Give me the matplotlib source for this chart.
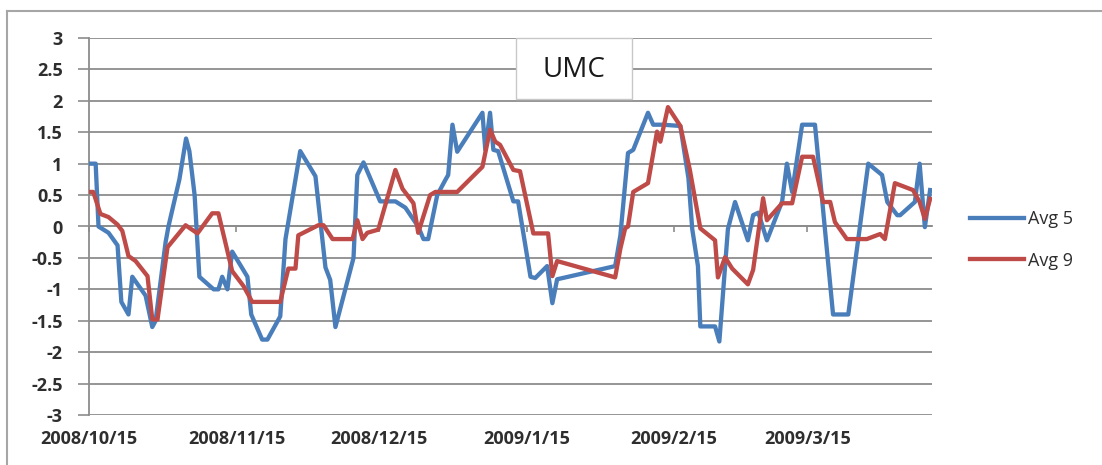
import numpy as np
import matplotlib
matplotlib.use("Agg")
import matplotlib.pyplot as plt
from matplotlib.patches import Rectangle
from matplotlib.lines import Line2D
from datetime import date

plt.rcParams['font.family'] = ['Open Sans', 'DejaVu Sans']

# days since 2008/10/15 and values
avg5_days = [0.3, 1.4, 2.0, 4.1, 6.0, 6.8, 8.3, 9.1, 11.9, 13.3, 14.0, 16.1, 16.7,
             19.0, 20.4, 21.1, 22.2, 23.2, 26.2, 27.2, 28.0, 29.1, 30.1, 33.3, 34.1,
             36.4, 37.5, 40.2, 41.3, 44.4, 47.6, 49.7, 50.7, 51.8, 55.6, 56.4, 57.7,
             61.2, 64.4, 66.5, 69.2, 70.3, 71.3, 73.2, 74.9, 75.5, 76.4, 77.4, 82.7,
             83.3, 84.3, 85.0, 86.0, 89.2, 90.2, 92.8, 93.8, 96.3, 97.4, 98.4, 110.6,
             111.7, 113.3, 114.4, 117.5, 118.6, 120.7, 124.3, 126.0, 126.8, 128.0,
             128.5, 131.6, 132.5, 134.3, 135.8, 138.5, 139.6, 140.7, 142.5, 145.7,
             146.7, 147.8, 149.9, 152.6, 156.4, 159.6, 163.8, 166.7, 167.8, 169.9,
             170.5, 173.6, 174.6, 175.7, 176.8]
avg5_vals = [1.0, 1.0, 0.0, -0.1, -0.3, -1.2, -1.4, -0.8, -1.1, -1.6, -1.5, -0.25, 0.0,
             0.75, 1.4, 1.2, 0.5, -0.8, -1.0, -1.0, -0.8, -1.0, -0.4, -0.8, -1.4,
             -1.8, -1.8, -1.43, -0.2, 1.2, 0.8, -0.65, -0.85, -1.6, -0.5, 0.82, 1.02,
             0.4, 0.4, 0.3, 0.0, -0.2, -0.2, 0.5, 0.74, 0.82, 1.62, 1.19, 1.81,
             1.22, 1.81, 1.22, 1.2, 0.4, 0.4, -0.8, -0.82, -0.63, -1.22, -0.84, -0.63,
             -0.14, 1.17, 1.22, 1.81, 1.62, 1.62, 1.6, 0.77, -0.04, -0.63,
             -1.59, -1.59, -1.83, -0.04, 0.39, -0.22, 0.18, 0.22, -0.22, 0.4,
             1.0, 0.55, 1.62, 1.62, -1.4, -1.4, 1.0, 0.82, 0.39, 0.18,
             0.18, 0.39, 1.0, -0.01, 0.58]

avg9_days = [0.3, 0.9, 2.4, 4.1, 6.0, 7.0, 8.3, 9.8, 12.3, 13.3, 14.4, 16.5, 20.3,
             22.8, 25.9, 27.2, 30.1, 32.5, 34.3, 40.2, 41.9, 43.4, 44.0, 48.2, 49.3,
             51.2, 55.4, 56.4, 57.5, 58.5, 60.8, 64.4, 65.9, 68.2, 69.2, 71.7, 72.8,
             77.4, 82.7, 84.3, 85.4, 86.4, 89.2, 90.6, 93.4, 96.5, 97.4, 98.4, 110.6,
             111.7, 112.7, 113.3, 114.4, 117.5, 119.4, 120.1, 121.7, 124.3, 126.3,
             128.5, 131.6, 132.2, 133.7, 135.2, 138.5, 139.6, 141.7, 142.5, 145.7,
             147.8, 149.9, 152.2, 154.3, 155.8, 156.8, 159.3, 163.5, 166.3, 167.3,
             169.4, 173.2, 174.6, 175.7, 176.8]
avg9_vals = [0.55, 0.55, 0.2, 0.15, 0.03, -0.07, -0.47, -0.55, -0.79, -1.48, -1.48, -0.33, 0.02,
             -0.11, 0.21, 0.21, -0.71, -0.95, -1.2, -1.2, -0.67, -0.67, -0.14, 0.02, 0.02,
             -0.2, -0.2, 0.1, -0.2, -0.1, -0.05, 0.9, 0.6, 0.37, -0.1, 0.5, 0.55,
             0.55, 0.95, 1.54, 1.35, 1.3, 0.9, 0.88, -0.11, -0.11, -0.79, -0.55, -0.81,
             -0.35, -0.03, 0.0, 0.55, 0.69, 1.51, 1.35, 1.9, 1.6, 0.9,
             -0.03, -0.22, -0.81, -0.49, -0.67, -0.92, -0.69, 0.45, 0.1, 0.37,
             0.37, 1.11, 1.11, 0.39, 0.39, 0.07, -0.2, -0.2, -0.12, -0.2,
             0.69, 0.58, 0.39, 0.12, 0.44]

tick_labels = ['2008/10/15', '2008/11/15', '2008/12/15', '2009/1/15', '2009/2/15', '2009/3/15']
start = date(2008, 10, 15)
tick_pos = [(date(*map(int, s.split('/'))) - start).days for s in tick_labels]

grid_c = '#8c8c8c'
txt_c = '#2e2e2e'

fig = plt.figure(figsize=(11.02, 4.65), dpi=100)
ax = fig.add_axes([89 / 1102, 1 - 415 / 465, (932 - 89) / 1102, 377 / 465])

ax.plot(avg5_days, avg5_vals, color='#4A7EBB', lw=3.1, solid_joinstyle='round', label='Avg 5', zorder=3)
ax.plot(avg9_days, avg9_vals, color='#BE4B48', lw=3.1, solid_joinstyle='round', label='Avg 9', zorder=4)

ax.set_xlim(0, 177.2)
ax.set_ylim(-3, 3)
yt = np.arange(-3, 3.01, 0.5)
ax.set_yticks(yt)
ax.set_yticklabels([('%g' % v) for v in yt], fontsize=13, fontweight='bold', color=txt_c)
ax.tick_params(axis='y', length=8, width=1.2, color=grid_c, pad=11)
for v in yt:
    ax.axhline(v, color=grid_c, lw=1.3, zorder=1)

for s in ['top', 'right']:
    ax.spines[s].set_visible(False)
ax.spines['left'].set_color(grid_c)
ax.spines['left'].set_linewidth(1.3)
ax.spines['bottom'].set_position(('data', 0))
ax.spines['bottom'].set_color(grid_c)
ax.spines['bottom'].set_linewidth(1.3)
ax.set_xticks(tick_pos)
ax.tick_params(axis='x', direction='out', length=4.5, width=1.2, color=grid_c, labelbottom=False)

sec = ax.secondary_xaxis('bottom')
sec.set_xticks(tick_pos)
sec.set_xticklabels(tick_labels, fontsize=13, fontweight='bold', color=txt_c)
sec.tick_params(length=0, pad=11)
sec.spines['bottom'].set_visible(False)

# title box
fig.add_artist(Rectangle((516 / 1102, 1 - 99 / 465), 116 / 1102, 61 / 465,
                         transform=fig.transFigure, facecolor='white',
                         edgecolor='#c8c8c8', lw=1, zorder=5))
fig.text(574 / 1102, 1 - 70 / 465, 'UMC', fontsize=20, color='#1a1a1a',
         ha='center', va='center', zorder=6)

# chart border (top and left visible)
fig.add_artist(Line2D([7 / 1102, 1], [1 - 11 / 465, 1 - 11 / 465], transform=fig.transFigure,
                      color='#a6a6a6', lw=1.5))
fig.add_artist(Line2D([7 / 1102, 7 / 1102], [0, 1 - 11 / 465], transform=fig.transFigure,
                      color='#a6a6a6', lw=1.5))

ax.legend(loc='center left', bbox_to_anchor=(970 / 1102, 1 - 240 / 465),
          bbox_transform=fig.transFigure, frameon=False, fontsize=13,
          handlelength=3.0, handletextpad=0.2, labelspacing=1.3,
          borderpad=0, borderaxespad=0, labelcolor=txt_c)

fig.savefig('out.png', dpi=100)
